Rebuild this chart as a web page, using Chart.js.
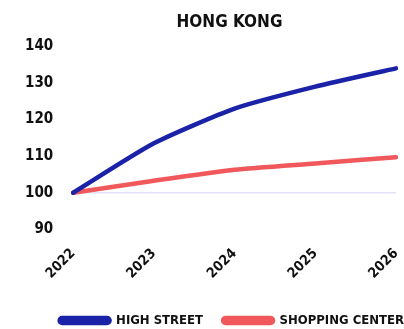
<!DOCTYPE html>
<html>
<head>
<meta charset="utf-8">
<script src="https://cdn.jsdelivr.net/npm/chart.js@4"></script>
<style>
  html, body { margin: 0; padding: 0; background: #fff; }
  #wrap { width: 404px; height: 329px; }
</style>
</head>
<body>
<div id="wrap"><canvas id="grafico"></canvas></div>
<script>
// Dados do gráfico
const anos = ["2022", "2023", "2024", "2025", "2026"];
const highStreet = [100, 113.5, 123, 129, 134];
const shoppingCenter = [100, 103.3, 106.3, 108, 109.7];
const yTicks = [90, 100, 110, 120, 130, 140];

const fonte = "'DejaVu Sans Condensed', 'Liberation Sans Narrow', sans-serif";
const espacoLegenda = 20;

new Chart(document.getElementById("grafico"), {
    type: 'line',
    data: {
        labels: anos,
        datasets: [{
            label: 'HIGH STREET',
            data: highStreet,
            borderColor: '#1a22a8',
            backgroundColor: '#1a22a8',
            borderWidth: 4.5,
            tension: 0.2,
            pointRadius: 0,
            borderCapStyle: 'round'
        }, {
            label: 'SHOPPING CENTER',
            data: shoppingCenter,
            borderColor: '#f0585c',
            backgroundColor: '#f0585c',
            borderWidth: 4.5,
            tension: 0.2,
            pointRadius: 0,
            borderCapStyle: 'round'
        }]
    },
    options: {
        responsive: true,
        maintainAspectRatio: false,
        animation: false,
        layout: { padding: { top: 12, right: 0, left: 5, bottom: 0 } },
        plugins: {
            title: {
                display: true,
                text: 'HONG KONG',
                color: '#111',
                font: { family: fonte, size: 17, weight: 'bold' },
                padding: { top: 0, bottom: 14 },
                align: 'center'
            },
            legend: {
                position: 'bottom',
                align: 'end',
                labels: {
                    color: '#111',
                    font: { family: fonte, size: 13, weight: 'bold' },
                    boxWidth: 50,
                    boxHeight: 5,
                    useBorderRadius: true,
                    borderRadius: 2.5,
                    padding: espacoLegenda
                }
            },
            tooltip: { enabled: false }
        },
        scales: {
            x: {
                offset: false,
                grid: { display: false },
                border: { display: false },
                ticks: {
                    color: '#111',
                    font: { family: fonte, size: 14, weight: 'bold' },
                    maxRotation: 45,
                    minRotation: 45,
                    padding: 8
                },
                afterFit: s => {
                    s.height += 4;
                    s.paddingRight = 8;
                }
            },
            y: {
                min: yTicks[0],
                max: yTicks[yTicks.length - 1],
                border: { display: false },
                grid: {
                    drawTicks: false,
                    lineWidth: 1.5,
                    color: ctx => ctx.tick && ctx.tick.value === 100 ? '#e2e2f6' : 'rgba(0,0,0,0)'
                },
                afterBuildTicks: axis => { axis.ticks = yTicks.map(v => ({ value: v })); },
                ticks: {
                    color: '#111',
                    font: { family: fonte, size: 15, weight: 'bold' },
                    padding: 20
                }
            }
        }
    },
    plugins: [{
        // legenda mais baixa e à direita, título centrado sobre o gráfico
        id: 'ajusteLegenda',
        beforeInit(chart) {
            const fit = chart.legend.fit;
            chart.legend.fit = function () {
                fit.bind(chart.legend)();
                this.height -= 8;
            };
        },
        afterLayout(chart) {
            chart.legend.left += 20;
            chart.legend.right += 20;
            chart.titleBlock.left += 25;
            chart.titleBlock.right += 25;
        }
    }]
});
</script>
</body>
</html>
